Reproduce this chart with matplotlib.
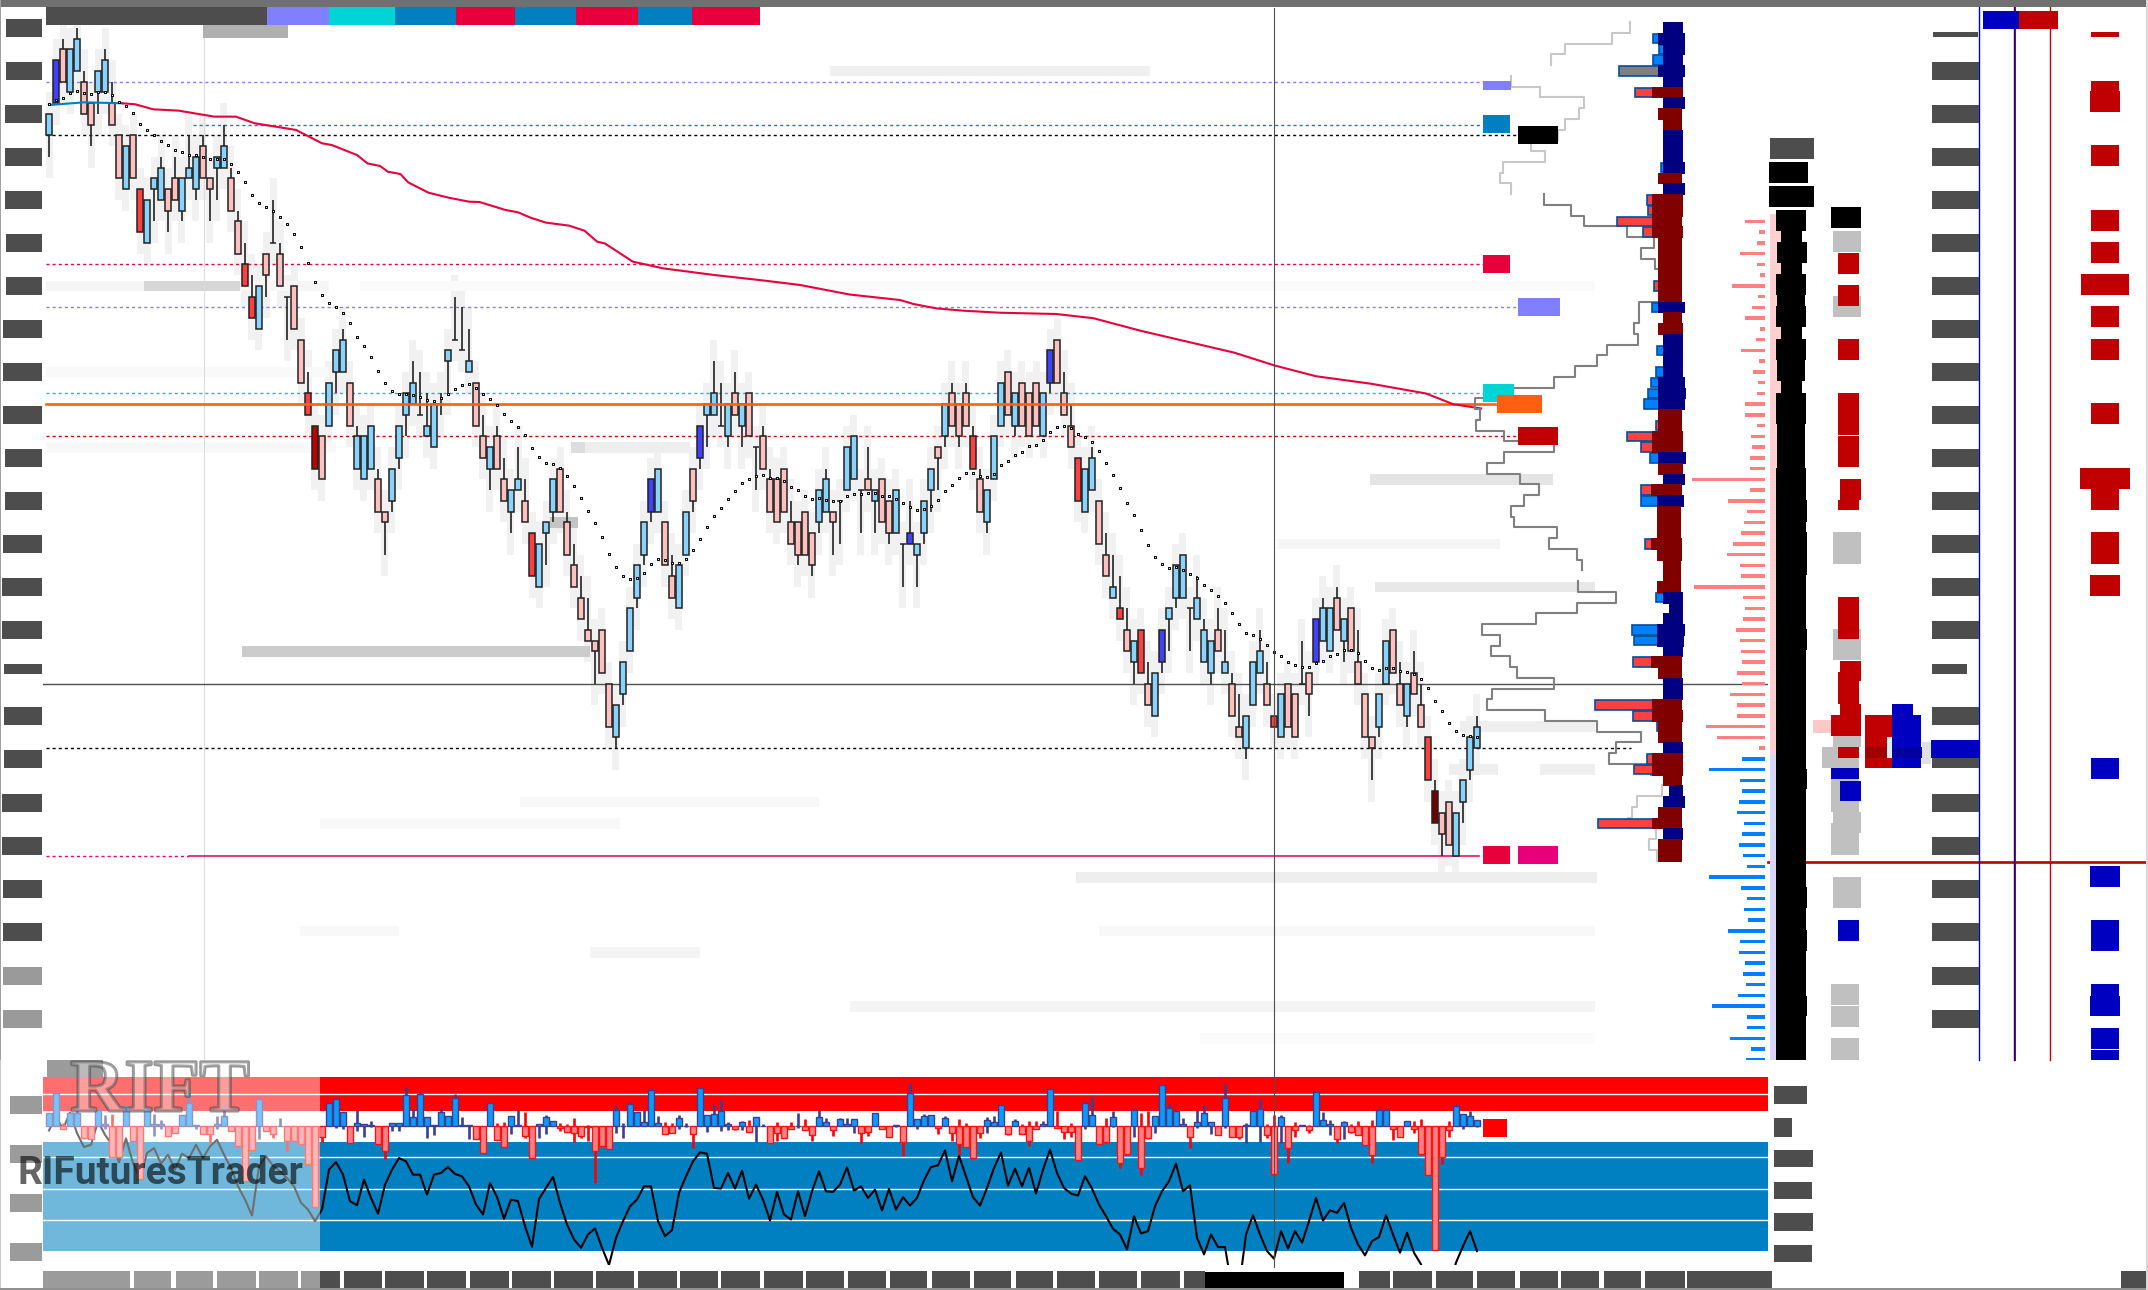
import numpy as np
import matplotlib
matplotlib.use("Agg")
import matplotlib.pyplot as plt
from matplotlib.patches import Rectangle
import matplotlib.patheffects as pe

W, H = 2148, 1290
UP, DOWN, VIOLET, RED, DARK, MAROON = '#88d4ff', '#ffc0c0', '#4040ff', '#ff4040', '#c00000', '#700000'

# --- candles, in price levels counted down from 100
wick_hi = [10,5,3,4,2,6,9,6,4,7, 12,13,12,17,18,16,14,17,14,16, 12,14,12,16,14,11,15,19,22,25,
           26,23,18,22,27,26,31,34,39,40, 35,32,30,35,39,40,39,43,47,43, 39,36,33,34,36,37,36,32,27,28,
           30,35,38,41,39,42,45,41,44,49, 50,48,44,43,47,50,53,55,59,58, 63,65,61,56,52,48,44,43,48,51,
           52,47,43,39,37,33,35,37,34,37, 36,41,39,43,44,43,46,48,47,49, 45,43,47,46,41,40,45,41,45,44,
           46,45,50,46,50,46,43,41,37,35, 37,35,39,43,45,40,35,34,36,35, 36,35,36,32,31,34,37,42,43,41,
           46,49,51,53,56,59,58,61,62,58, 56,52,51,56,53,57,59,56,58,62, 64,66,61,58,61,66,64,63,64,59,
           62,57,55,56,54,57,56,58,64,68, 64,59,58,61,63,60,63,68,72,75, 74,75,72,68,66]
body_top = [10,5,4,4,3,7,9,6,5,9, 12,13,12,17,18,16,15,17,16,16, 15,14,13,16,14,13,16,20,24,27,
            26,23,22,23,27,26,31,36,39,40, 35,32,31,35,40,40,39,44,47,43, 39,36,35,38,39,37,37,32,31,32,
            33,35,40,41,40,44,45,44,46,49, 50,48,44,43,48,52,55,58,59,58, 63,65,61,56,52,48,44,43,48,53,
            52,47,43,39,37,36,39,37,36,37, 36,41,40,44,44,43,48,48,47,49, 45,44,47,46,41,40,45,44,45,44,
            46,45,50,49,50,46,43,41,37,36, 37,36,40,44,45,40,35,34,36,35, 36,35,36,32,31,36,39,42,43,42,
            46,51,54,56,58,59,58,63,62,58, 56,52,51,56,55,58,59,58,61,63, 67,66,61,60,63,66,64,63,64,63,
            62,57,56,56,55,57,56,61,64,68, 64,59,58,63,63,62,65,68,73,75, 74,75,72,68,67]
body_bot = [12,9,7,8,6,10,11,8,8,11, 16,17,16,21,22,17,18,19,18,19, 16,17,16,17,15,15,19,23,26,29,
            30,25,22,26,27,30,35,38,43,44, 39,34,34,39,43,44,43,47,48,46, 42,38,37,38,40,41,37,33,31,32,
            34,39,42,43,43,46,47,45,48,53, 54,49,47,47,51,54,57,59,60,62, 67,68,64,60,55,51,47,47,52,55,
            56,51,46,42,38,38,39,40,38,39, 40,41,43,47,48,47,50,51,51,52, 48,47,48,46,45,44,45,45,46,48,
            49,49,50,50,51,49,45,42,40,39, 40,39,43,47,48,44,39,38,39,39, 40,39,40,35,35,38,41,46,47,45,
            50,53,55,57,60,61,62,65,66,61, 57,55,55,56,57,61,62,60,62,66, 68,69,65,62,65,67,68,67,68,63,
            64,61,59,60,58,59,60,63,68,69, 67,63,62,65,66,64,67,72,76,77, 78,79,74,71,69]
wick_lo = [14,9,7,8,6,10,13,10,8,11, 16,17,16,21,22,20,18,21,18,20, 16,18,16,20,18,15,19,23,26,29,
           30,27,22,26,31,30,35,38,43,44, 39,36,34,39,43,44,43,47,51,47, 43,40,37,38,40,41,38,36,31,32,
           34,39,42,45,43,46,49,45,48,53, 54,52,48,47,51,54,57,59,63,62, 67,69,65,60,56,52,48,47,52,55,
           56,51,47,43,41,38,39,41,38,41, 40,45,43,47,48,47,50,52,51,53, 49,47,51,50,45,44,49,45,49,48,
           50,49,54,50,54,50,47,45,41,39, 41,39,43,47,49,44,39,38,40,39, 40,39,40,36,35,38,41,46,47,45,
           50,53,55,57,60,63,62,65,66,62, 60,56,55,60,57,61,63,60,62,66, 68,70,65,62,65,67,68,67,68,63,
           66,61,59,60,58,61,60,63,68,72, 68,63,62,65,67,64,67,72,76,79, 78,79,76,72,69]
kinds = ("uvduudduud" "dudruuuddu" "uudduuddrr" "uddddddrxd" "uuuduuuddu" "uuuduuuudd"
         "uddudduudr" "uuuddddddd" "duuuuuvudd" "uudvuududu" "dddddddddd" "uudduuddud"
         "dudvuuudud" "ddrduuudud" "dduvdddruu" "ddurdurduv" "uuuduuudud" "duuudruddd"
         "dvuududddd" "uuddudd" "rmd" "duuuu")

# --- dotted stop line, one value per bar
dots = [9.1,8.7,8.55,8.08,7.87,8.08,8.18,7.96,7.96,8.24, 8.89,9.29,9.94,10.97,11.52,12.0,12.55,12.92,13.38,13.57,
        13.85,13.85,14.04,14.22,14.22,14.22,14.69,15.43,16.36,17.57, 18.31,18.69,19.06,19.62,20.27,21.2,22.41,23.9,25.6,26.88,
        27.62,28.0,28.55,29.48,30.78,31.62,32.64,33.95,35.06,35.81, 36.09,36.09,36.18,36.36,36.64,36.74,36.46,36.09,35.62,35.25,
        35.16,35.53,36.09,36.55,37.11,37.95,38.6,39.16,39.9,41.11, 41.95,42.5,42.6,42.97,43.71,44.64,45.76,46.97,48.09,49.39,
        50.97,52.18,53.02,53.3,53.2,52.74,51.9,51.43,51.53,51.81, 51.81,51.43,50.6,49.57,48.46,47.43,46.69,45.85,45.11,44.36,
        43.99,43.71,43.62,43.9,43.9,44.18,44.74,45.02,45.57,45.85, 45.76,45.95,46.04,46.04,45.57,45.39,45.39,45.3,45.3,45.57,
        45.57,45.85,46.22,46.6,46.88,46.78,46.5,45.95,45.11,44.55, 43.9,43.43,43.43,43.71,43.81,43.53,42.69,42.32,41.76,41.48,
        40.92,40.83,40.36,39.62,39.16,39.06,39.25,39.81,40.08,40.55, 41.39,42.5,43.62,44.83,46.22,47.34,48.73,50.13,51.24,51.89,
        52.27,52.17,52.45,52.82,53.2,53.85,54.31,54.87,55.52,56.45, 57.48,58.31,58.5,58.87,59.43,60.08,60.45,61.01,61.29,61.48,
        61.48,61.1,60.92,60.45,60.27,59.9,59.9,60.17,60.92,61.57, 61.75,61.57,61.57,61.85,61.94,62.13,62.59,63.43,64.64,65.57,
        66.68,67.43,67.8,67.89,67.99]

# --- moving average
ema_bar = [0,5,10.5,12.3,14.9,18.5,23.6,26.7,29.4,35.3,39,40.4,44,45.5,47.3,48.4,50.2,51.3,54.2,57.1,60,61.5,65.2,67,
           68.8,71,74.3,76.5,78.3,79.4,83.4,87.7,95,102.3,107.3,114.4,121.6,123.5,126.8,130.6,135.8,143.9,149.2,155.9,
           161.4,169.3,175.1,181,188.9,196.7,200.6,204.6]
ema_lvl = [9.17,8.92,9.01,9.1,9.57,9.69,10.25,10.25,10.87,11.49,12.73,12.89,13.82,14.6,14.84,15.37,15.59,16.36,17.32,
           17.79,18.16,18.19,18.93,19.15,19.65,20.11,20.39,20.86,21.88,22.04,23.74,24.36,24.98,25.51,25.91,26.8,27.31,
           27.68,28.09,28.3,28.49,28.61,29.0,30.16,31.0,32.2,33.4,34.4,35.1,36.0,37.0,37.4]

# --- faint order-book strips: level, from bar, to bar, tone
strip_lvl = [6,26,26,26,26,60,44,54,81,71,71,67,86,93,96,41,34,74,76,86,88,41,41,48,50]
strip_from = [111.6,-0.4,13.6,27.3,44.4,27.6,188.7,189.4,146.7,213,200,201.6,150,114.4,164.4,-0.4,-0.4,67.3,38.7,35.9,77.3,74.6,76.6,71.6,175.4]
strip_to = [157.3,13.6,27.3,40,220.9,77.3,214.9,220.9,221.1,220.9,207,220.9,220.9,220.9,220.9,41,40,110,81.6,50,93,77.6,91.6,75.6,207.3]
strip_tone = ['#f0f0f0','#f5f5f5','#d6d6d6','#f6f6f6','#fafafa','#cccccc','#e4e4e4','#e8e8e8','#eeeeee','#eeeeee','#eeeeee',
              '#eeeeee','#f8f8f8','#f4f4f4','#fbfbfb','#f8f8f8','#f9f9f9','#f8f8f8','#f8f8f8','#f8f8f8','#f4f4f4','#dddddd',
              '#eeeeee','#c4c4c4','#f5f5f5']

# --- volume profile, levels 2..79
vp_far = [37,42,37,37,42,37,48,37,42,37, 37,37,37,37,42,37,48,48,48,48, 42,42,42,42,42,42,42,37,42,37,
          37,37,37,42,42,42,42,42,48,48, 42,42,37,49,43,43,43,43,49,43, 37,37,43,37,31,37,43,43,37,49,
          42,37,37,48,48,42,42,37,48,48, 37,31,37,42,48,37,42,42]
vp_near = [17,15,15,17,15,17,17,15,18,18, 17,17,17,15,18,15,17,17,18,17, 18,18,18,18,18,18,15,18,17,17,
           17,17,17,15,14,15,18,18,17,17, 14,17,15,18,16,19,19,19,18,18, 19,19,19,17,17,17,15,16,17,18,
           18,17,17,18,17,18,18,17,17,17, 18,17,15,18,18,17,18,18]
vp_outer = [0,47,41,47,81,0,65,0,0,0, 0,0,0,39,0,0,53,52,83,57, 0,0,0,0,46,0,48,0,0,0,
            43,0,44,49,52,56,0,44,73,59, 50,0,0,59,59,0,0,0,55,0, 0,0,0,44,0,0,68,66,0,67,
            0,0,0,105,67,43,0,0,53,66, 0,0,0,0,102,0,0,0]
vp_side = ("nnnnnnmnmm" "nnnnmnmmmm" "mmmmmmnmmn" "nnnnnnmmmm" "nmnmnmmmmm" "mmmnnnnnnm" "mnnmmmmnmm" "mnnmmnmm")
# stepped outline of the longer profile
line_a = {2:70,3:88,4:135,5:149}
line_b = {7:189,8:160,9:116,10:121,11:135,12:142}
line_c = {13:169,14:155,15:197,16:200,17:189}
line_d = dict(zip(range(18,53),[156,129,116,73,46,59,45,40,40,40,61,61,66,62,93,103,125,146,210,225,220,224,196,146,196,213,180,
                                161,176,189,186,143,151,123,118]))
line_e = dict(zip(range(54,72),[122,84,123,164,218,200,209,190,183,146,208,213,155,103,59,84,91,49]))
line_f = dict(zip(range(73,80),[38,63,68,72,44,51,43]))

# --- delta ladder, levels 20..98
ladder = [20,6,8,25,8,5,33,7,13,20, 5,9,24,6,12,7,8,20,20,8, 14,13,15,15,73,15,37,18,21,24,
          32,38,25,24,71,22,20,22,29,25, 24,23,28,23,35,28,28,59,48,6,
          23,56,25,23,26,28,21,23,26,22, 18,56,24,18,21,17,37,25,26,20, 22,19,27,53,18,18,35,14,19]

# --- lower panel
hist_body = [38,100,-10,40,40,-35,-40,48,5,-92, -92,60,-45,-160,55,6,5,-30,-22,32, 68,3,-25,-25,7,30,-15,-60,-165,-72,
             82,-15,-25,0,-45,-45,-55,-115,-243,-33, 68,80,42,-50,8,6,3,-55,-75,10, 10,92,28,95,28,4,42,30,83,3,
             4,-40,-82,70,-42,-63,30,3,-30,-97, 6,27,14,-5,-18,-20,-30,-4,-75,-60, -70,47,0,65,43,13,107,8,-24,-21,
             23,1,-24,115,33,35,45,5,-8,12, -18,27,0,-50,-20,-36,-10,0,-12,-27, 28,12,-12,20,6,22,-20,-18,38,-10,
             -33,2,-48,100,20,30,32,-5,23,-22, -55,-63,-97,-20,17,12,62,-24,15,-24, -45,-10,5,110,-5,-18,-18,-103,68,32,
             -55,-47,28,-112,-85,48,-125,-35,30,122, 55,45,5,-32,11,40,12,-28,85,-32, -32,4,44,50,-28,-143,28,-67,-12,2,
             -12,102,18,5,-40,13,-17,-28,-58,-87, 48,47,-10,-32,15,-10,-85,-147,-373,-93, -12,60,35,30,18]
hist_hi = [38,100,8,40,70,0,0,48,32,35, 0,60,0,0,55,35,18,0,0,32, 115,3,0,0,30,62,0,0,0,0,
           82,0,0,25,0,0,0,0,0,0, 68,80,42,0,48,6,14,0,0,10, 10,116,50,102,28,4,55,30,97,28,
           4,0,0,70,9,12,30,47,42,0, 6,33,14,8,6,24,0,2,0,0, 0,60,8,72,43,48,115,30,12,10,
           33,8,0,115,33,66,78,12,0,15, 18,27,5,0,12,0,12,38,20,0, 47,25,0,25,25,22,0,0,40,0,
           0,2,0,128,20,35,32,0,30,0, 20,8,0,0,26,30,62,0,20,5, 15,15,14,110,45,0,8,0,72,86,
           0,25,45,0,0,50,40,45,30,122, 67,45,24,0,48,62,12,0,125,0, 0,8,44,80,5,32,32,0,12,2,
           3,102,42,18,0,15,5,15,0,18, 48,47,0,0,15,15,20,0,0,0, 15,65,35,45,18]
hist_lo = [0,0,-10,0,0,-35,-40,0,-8,-92, -92,0,-45,-160,0,-30,-10,-30,-22,0, 0,-8,-25,-50,-8,0,-15,-60,-165,-72,
           -40,-15,-35,0,-75,-45,-55,-115,-243,-47, 0,-7,-8,-50,-14,-33,-3,-55,-100,-15, -14,0,0,0,-35,-27,0,0,0,0,
           -38,-40,-82,0,-42,-63,-25,0,-35,-97, -35,-25,0,-16,-18,-47,-36,-44,-170,-60, -70,-20,-35,0,0,0,0,0,-24,-21,
           -8,-3,-65,0,-18,0,-15,-12,-12,-12, -18,-47,0,-50,-45,-36,-10,-5,-12,-45, 0,0,-30,0,0,-22,-50,-30,0,-10,
           -33,-3,-90,0,-10,0,0,-25,0,-45, -88,-63,-97,-35,-20,0,0,-28,0,-24, -60,-10,0,0,-5,-38,-32,-103,-10,0,
           -55,-50,-3,-125,-85,-32,-147,-40,-22,0, 0,0,0,-65,-5,0,-23,-28,-5,-32, -40,-50,0,-48,-35,-148,-50,-112,-32,0,
           -20,0,0,-28,-50,-40,-22,-28,-58,-110, 0,0,-43,-32,0,-22,-85,-147,-373,-115, -32,0,-8,0,-2]
osc = [175,217,179,229,167,125,132,202,162,132, 79,151,77,29,107,122,75,102,57,105, 92,132,92,127,147,102,62,7,-33,-81,
       67,97,69,52,32,7,-43,-63,-98,-63, 57,80,42,-38,-50,27,-28,-76,12,57, 92,82,42,42,-18,42,47,65,44,37,
       7,-48,-78,17,-25,-91,-33,-38,-113,-175, -31,2,35,-43,-108,-153,-178,-138,-120,-178, -230,-148,-98,-53,-33,7,7,-98,-143,-125,
       -13,37,82,109,105,2,0,47,0,54, -30,12,-33,-96,-10,-78,-93,-8,-83,-8, 52,-8,-10,12,64,-6,7,-28,-3,-66,
       -1,-63,-26,-51,-28,25,65,70,115,22, 99,37,-26,-51,2,62,109,9,60,7, 63,-15,57,117,47,2,-15,-21,37,0,
       -48,-83,-121,-138,-183,-83,-135,-128,-53,-8, 22,75,-8,10,-148,-198,-138,-176,-176,-300, -300,-138,-80,-138,-188,-211,-128,-180,-128,-163,
       -98,-28,-96,-65,-73,-43,-118,-168,-201,-158, -146,-80,-138,-193,-133,-193,-228,-300,-300,-300, -300,-223,-173,-128,-188]

bars = np.arange(len(wick_hi))
fill = {'u': UP, 'd': DOWN, 'v': VIOLET, 'r': RED, 'x': DARK, 'm': MAROON}
body_color = [fill[c] for c in kinds]
top, bot = 100-np.array(body_top), 100-np.array(body_bot)
hi, lo = 100-np.array(wick_hi), 100-np.array(wick_lo)

fig = plt.figure(figsize=(W/100, H/100), dpi=100, facecolor='white')


def panel(x0, x1, y0, y1, z):
    ax = fig.add_axes([x0/W, 1-y1/H, (x1-x0)/W, (y1-y0)/H], zorder=z)
    ax.axis('off')
    ax.patch.set_alpha(0)
    return ax


LEVEL_TOP = 100.6-7/10.75
LEVEL_BOT = 100.6-1060/10.75
BAR_L, BAR_R = (43-49)/7, (1768-49)/7

# ---Main price panel
ax = panel(43, 1768, 7, 1060, 1)
ax.set_xlim(BAR_L, BAR_R)
ax.set_ylim(LEVEL_BOT, LEVEL_TOP)
ax.bar(bars, (hi-lo)+4, bottom=lo-2, width=1, color='#f1f1f1', zorder=1)
for lv, a, b, c in zip(strip_lvl, strip_from, strip_to, strip_tone):
    ax.add_patch(Rectangle((a, 100-lv-0.5), b-a, 1, fc=c, ec='none', zorder=1.5))
ax.axvline((203.5-49)/7, color='#dcdcdc', lw=0.8, zorder=1.6)

dash = (0, (2.2, 2.2))
ax.plot([-0.4, 204.9], [93, 93], color='#8080ff', lw=1, ls=dash, zorder=2)
ax.plot([20.6, 204.9], [89, 89], color='#0080c0', lw=1, ls=dash, zorder=2)
ax.plot([-0.4, 209.9], [88, 88], color='#000000', lw=1, ls=dash, zorder=2)
ax.plot([-0.4, 204.9], [76, 76], color='#e8003c', lw=1, ls=dash, zorder=2)
ax.plot([-0.4, 209.9], [72, 72], color='#8080ff', lw=1, ls=dash, zorder=2)
ax.plot([-0.4, 204.9], [64, 64], color='#00c8c8', lw=1, ls=dash, zorder=2)
ax.plot([-0.4, 209.9], [60, 60], color='#d00000', lw=1, ls=dash, zorder=2)
ax.plot([-0.4, 226], [31, 31], color='#000000', lw=1, ls=dash, zorder=2)
ax.plot([-0.4, 20], [21, 21], color='#e8007a', lw=1, ls=dash, zorder=2)
ax.plot([20, 204.3], [21, 21], color='#e0005a', lw=1.1, zorder=2)
ax.plot([BAR_L, BAR_R], [37, 37], color='#505050', lw=1, zorder=2)

# ---velas
ax.vlines(bars, lo, hi, color='#2a2a2a', lw=1.25, zorder=3)
ax.bar(bars, top-bot, bottom=bot, width=0.76, color=body_color, edgecolor='#222222', lw=1.1, zorder=3.2)
ax.plot([-0.4, 206.6], [63, 63], color='#ff6010', lw=1.9, zorder=3.4)
ema = 100-np.array(ema_lvl)
ax.plot(ema_bar[:3], ema[:3], color='#0080c0', lw=1.5, zorder=3.5)
ax.plot(ema_bar[2:], ema[2:], color='#e8003c', lw=1.5, zorder=3.5)
ax.scatter(bars, 100-np.array(dots), marker='s', s=4, facecolor='#e8e8e8', edgecolor='black', lw=0.7, zorder=4)

# ---Volume profile
vp = panel(1470, 1700, 7, 1060, 2)
vp.set_xlim(230, 0)
vp.set_ylim(LEVEL_BOT, LEVEL_TOP)
lv = np.arange(2, 80)
vp_level = 100-lv
is_buy = np.array([c == 'n' for c in vp_side])
outer = np.array(vp_outer)
near, far = np.array(vp_near), np.array(vp_far)
out_col = np.where(is_buy, '#0080ff', '#ff4040').tolist()
out_col[4] = '#808080'
keep = outer > 0
vp.barh(vp_level[keep], (outer-far)[keep]+4, left=(far-4)[keep], height=0.88, color=np.array(out_col)[keep].tolist(),
        edgecolor='#004f9f', lw=1.2, zorder=1)
vp.barh(vp_level, far-near, left=near, height=1.1, color=np.where(is_buy, '#000080', '#800000').tolist(), zorder=2)
for seg, col in [(line_a, '#c8c8c8'), (line_b, '#c8c8c8'), (line_c, '#c8c8c8'),
                 (line_d, '#808080'), (line_e, '#808080'), (line_f, '#c8c8c8')]:
    k = np.array(list(seg.keys()))
    v = np.array(list(seg.values()))
    vp.plot(np.repeat(v, 2), 100-np.column_stack([k-0.55, k+0.45]).ravel(), color=col, lw=1.5, zorder=0.5)

# ---Ladder
lad = panel(1690, 1765, 7, 1060, 2)
lad.set_xlim(75, 0)
lad.set_ylim(LEVEL_BOT, LEVEL_TOP)
lad_lv = 100-np.arange(20, 99)
lad.barh(lad_lv, ladder, height=0.33, color=['#ff8080' if l > 30 else '#0080ff' for l in lad_lv])

# ---Lower panel
sub = panel(43, 1768, 1070, 1265, 3)
sub.set_xlim(BAR_L, BAR_R)
sub.set_ylim(-230, 357)
sub.axhspan(234, 336, color='#ff0000', lw=0, zorder=1)
sub.axhline(285, color='white', lw=1, zorder=1.1)
sub.axhspan(-189, 141, color='#0080c0', lw=0, zorder=1)
for g in [96, 0, -96]:
    sub.axhline(g, color='white', lw=1, zorder=1.1)
sub.plot(bars, osc, color='black', lw=1.5, zorder=2)

hs = panel(43, 1768, 1070, 1265, 4)
hs.set_xlim(BAR_L, BAR_R)
hs.set_ylim(-417, 168)
h_body = np.array(hist_body)
h_up = h_body >= 0
hs.vlines(bars, hist_lo, hist_hi, colors=np.where(h_up, '#3a3f8f', '#ff0000').tolist(), lw=1.9, zorder=1)
hs.bar(bars, h_body, width=0.8, color=np.where(h_up, '#0a9bff', '#ff8080').tolist(),
       edgecolor=np.where(h_up, '#3a3f8f', '#ff1010').tolist(), lw=1, zorder=2)

# ---Everything laid out in screen pixels: masked labels, frame, cursors
px = panel(0, W, 0, H, 5)
px.set_xlim(0, W)
px.set_ylim(H, 0)


def block(x0, x1, y0, y1, c, z=3):
    px.add_patch(Rectangle((x0, y0), x1-x0, y1-y0, fc=c, ec='none', lw=0, zorder=z))


GREY, BLUE, CRIM, SILVER = '#4d4d4d', '#0000c0', '#c00000', '#c0c0c0'
block(0, W, 0, 7, '#707070')
block(0, 1.2, 0, H, '#a0a0a0')
block(0, W, H-2, H, '#909090')
block(W-2, W, 0, H, '#d8d8d8')

# top legend strip
for x0, x1, c in [(46, 267, GREY), (267, 329, '#8080ff'), (329, 395, '#00d4d4'), (395, 456, '#0080c0'), (456, 515, '#e8003c'),
                  (515, 576, '#0080c0'), (576, 638, '#e8003c'), (638, 692, '#0080c0'), (692, 760, '#e8003c')]:
    block(x0, x1, 7, 25, c)
block(203, 288, 25, 38, '#b0b0b0')

# price scale blocks
tick_y = [28,71,114,157,200,243,286,329,372,415,458,501,544,587,630,669,716,759,803,846,889,932,976,1019]
tick_x = [6,6,5,5,5,6,6,3,3,3,5,5,3,2,2,4,4,4,2,2,3,3,3,3]
for y, x0 in zip(tick_y, tick_x):
    h = 5 if y == 669 else 9
    block(x0, 42, y-h, y+h, GREY if y < 970 else '#9a9a9a')
    if y > 40:
        right = 1967 if y == 669 else 1979
        block(1932, right, y-h, y+h, GREY)
block(1933, 1978, 32, 37, GREY)

# level tags beside the profile
for x0, x1, y0, y1, c in [(1483, 1511, 81, 90, '#8080ff'), (1483, 1510, 115, 133, '#0080c0'), (1518, 1558, 126, 144, 'black'),
                          (1483, 1510, 255, 273, '#e8003c'), (1518, 1560, 298, 316, '#8080ff'), (1483, 1514, 384, 402, '#00d4d4'),
                          (1497, 1542, 395, 413, '#ff6010'), (1518, 1558, 427, 445, CRIM), (1483, 1510, 846, 864, '#e8003c'),
                          (1518, 1558, 846, 864, '#e8007a'), (1483, 1507, 1119, 1137, '#ff0000')]:
    block(x0, x1, y0, y1, c, 4)

# cursors and vertical rules
px.plot([1274, 1274], [8, 1267], color='#505050', lw=0.8, zorder=5)
px.plot([1768, 2146], [861.5, 861.5], color=CRIM, lw=1.9, zorder=1)
px.plot([1979, 1979], [7, 1060], color=BLUE, lw=1, zorder=2)
px.plot([2015, 2015], [7, 1060], color=CRIM, lw=1.4, zorder=2)
px.plot([2014, 2014], [7, 1060], color=BLUE, lw=1, zorder=2)
px.plot([2050, 2050], [7, 1060], color=CRIM, lw=1, zorder=2)

# pink / lavender band and the black depth column
block(1770, 1782, 214, 755, '#ffd0d0', 1.5)
block(1770, 1782, 755, 1060, '#d8d8ff', 1.5)
for y0, y1, x0, x1 in [(210,231,1776,1806),(231,242,1781,1802),(242,263,1777,1807),(263,274,1781,1802),(274,295,1776,1806),
                       (295,306,1777,1805),(306,327,1776,1806),(327,339,1781,1802),(339,360,1776,1806),(360,381,1777,1805),
                       (381,393,1781,1802),(393,424,1776,1806),(424,468,1777,1805),(468,500,1776,1806),(500,522,1776,1807),
                       (522,532,1776,1806),(532,575,1776,1807),(575,629,1776,1806),(629,650,1776,1807),(650,769,1776,1806),
                       (769,789,1776,1807),(789,887,1776,1806),(887,908,1776,1807),(908,930,1776,1806),(930,951,1776,1807),
                       (951,996,1776,1806),(996,1016,1776,1807),(1016,1060,1776,1806)]:
    block(x0, x1, y0, y1, 'black', 2)
block(1770, 1814, 138, 159, GREY)
block(1769, 1808, 162, 183, 'black')
block(1769, 1814, 186, 207, 'black')

# position column
for x0, x1, y0, y1, c in [(1831,1861,207,228,'black'),(1833,1861,231,252,SILVER),(1833,1861,296,317,SILVER),
                          (1838,1859,253,274,CRIM),(1838,1859,285,306,CRIM),(1838,1859,339,360,CRIM),(1838,1859,393,435,CRIM),
                          (1838,1859,436,467,CRIM),(1840,1861,479,500,CRIM),(1838,1859,500,510,CRIM),(1833,1861,532,564,SILVER),
                          (1833,1861,629,660,SILVER),(1838,1859,597,639,CRIM),(1840,1861,661,681,CRIM),(1838,1859,672,704,CRIM),
                          (1840,1861,704,715,CRIM),(1813,1831,720,733,'#ffc8c8'),(1831,1861,715,736,CRIM),(1833,1861,736,747,SILVER),
                          (1822,1859,747,768,SILVER),(1838,1859,747,758,CRIM),(1831,1859,768,779,BLUE),(1831,1859,779,790,SILVER),
                          (1840,1861,781,801,BLUE),(1831,1859,790,812,SILVER),(1833,1861,812,833,SILVER),(1831,1859,823,855,SILVER),
                          (1833,1861,877,908,SILVER),(1838,1859,920,941,BLUE),(1831,1859,984,1005,SILVER),(1831,1859,1006,1027,SILVER),
                          (1831,1859,1038,1060,SILVER),
                          (1865,1892,715,747,CRIM),(1865,1887,747,758,'#a00000'),(1865,1892,758,768,CRIM),(1892,1913,704,715,BLUE),
                          (1892,1921,715,747,BLUE),(1892,1922,747,758,'#0000a0'),(1892,1921,758,768,BLUE),(1887,1892,737,758,'#d0f0f0'),
                          (1922,1931,742,764,'#e0e0e0'),(1931,1979,740,758,BLUE)]:
    block(x0, x1, y0, y1, c, 4 if c != SILVER else 3)

# right hand column
for x0, x1, y0, y1, c in [(2091,2119,32,37,CRIM),(2091,2119,81,91,CRIM),(2090,2120,91,112,CRIM),(2091,2119,145,166,CRIM),
                          (2091,2119,210,231,CRIM),(2091,2119,242,263,CRIM),(2081,2129,274,295,CRIM),(2091,2119,306,327,CRIM),
                          (2091,2119,339,360,CRIM),(2091,2119,403,424,CRIM),(2080,2130,468,489,CRIM),(2091,2119,489,510,CRIM),
                          (2091,2119,532,564,CRIM),(2090,2120,575,596,CRIM),(2091,2119,758,779,BLUE),(2090,2120,866,887,BLUE),
                          (2091,2119,920,951,BLUE),(2091,2119,984,996,BLUE),(2090,2120,996,1016,BLUE),(2091,2119,1028,1049,BLUE),
                          (2091,2119,1050,1060,BLUE),(1983,2019,11,29,BLUE),(2019,2058,11,29,CRIM)]:
    block(x0, x1, y0, y1, c)

# time axis blocks
time_blocks = [(43,130),(134,171),(176,213),(217,256),(259,298),(301,340),(344,382),(385,424),(427,466),(470,509),(512,551),(554,593),
               (596,634),(638,677),(680,718),(721,760),(764,803),(806,844),(848,886),(890,927),(932,970),(974,1011),(1016,1053),
               (1057,1095),(1099,1137),(1141,1180),(1184,1205),(1359,1390),(1393,1432),(1436,1473),(1477,1515),(1520,1558),
               (1561,1599),(1604,1641),(1645,1685),(1687,1772),(2121,2146)]
for x0, x1 in time_blocks:
    block(x0, x1, 1271, 1288, GREY)
block(1205, 1344, 1272, 1288, 'black')

# lower panel scale blocks
for y0, y1 in [(1096,1114),(1145,1163),(1194,1212),(1243,1261)]:
    block(10, 42, y0, y1, GREY)
block(47, 103, 1060, 1078, GREY)
for y0, y1, x1 in [(1086,1104,1807),(1118,1137,1792),(1150,1167,1813),(1182,1199,1812),(1213,1231,1813),(1245,1262,1812)]:
    block(1774, x1, y0, y1, GREY)

# washed left side with the watermark on top
block(0, 320, 1060, H-2, (1, 1, 1, 0.44), 6)
px.text(160, 1093, 'RIFT', family=['Liberation Serif', 'DejaVu Serif'], fontweight='bold', fontsize=54, color=(1, 1, 1, 0.18),
        ha='center', va='center', zorder=7, path_effects=[pe.withStroke(linewidth=2.2, foreground=(0.3, 0.3, 0.3, 0.6))])
px.text(18, 1174, 'RIFuturesTrader', family=['Roboto', 'DejaVu Sans'], fontweight='bold', fontsize=28,
        color=(0, 0, 0, 0.6), ha='left', va='center', zorder=7)
px.set_xlim(0, W)
px.set_ylim(H, 0)

fig.savefig('out.png', dpi=100)
